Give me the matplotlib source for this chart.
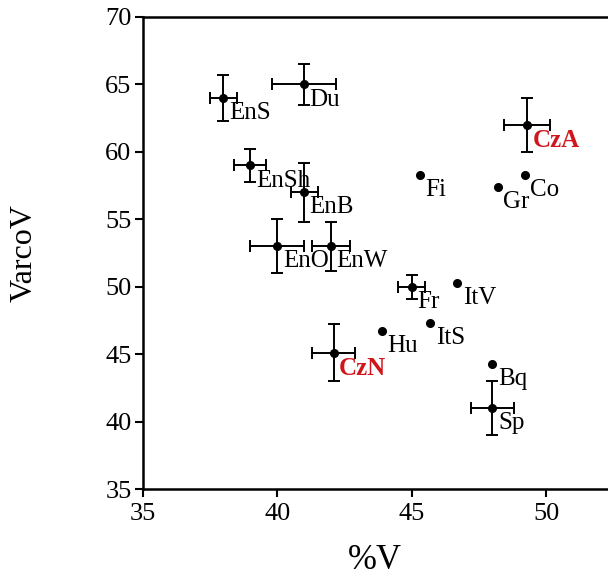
"""Scatter of VarcoV against %V with error bars for the rhythm-class groups."""
import numpy as np
import matplotlib
matplotlib.use('Agg')
import matplotlib.pyplot as plt

plt.rcParams['font.family'] = ['Liberation Serif', 'DejaVu Serif']

# --- data ---
labels = ['EnS', 'Du', 'EnSh', 'EnB', 'EnO', 'EnW', 'CzA', 'Fi', 'Co', 'Gr',
          'Fr', 'ItV', 'Hu', 'ItS', 'CzN', 'Bq', 'Sp']
pct_v = [38.0, 41.0, 39.0, 41.0, 40.0, 42.0, 49.3, 45.3, 49.2, 48.2,
         45.0, 46.7, 43.9, 45.7, 42.1, 48.0, 48.0]
varco_v = [64.0, 65.0, 59.0, 57.0, 53.0, 53.0, 62.0, 58.3, 58.3, 57.4,
           50.0, 50.3, 46.7, 47.3, 45.1, 44.3, 41.0]
# error bars (nan = no bar drawn)
x_err = [0.5, 1.2, 0.6, 0.5, 1.0, 0.7, 0.85, np.nan, np.nan, np.nan,
         0.5, np.nan, np.nan, np.nan, 0.8, np.nan, 0.8]
y_err = [1.7, 1.5, 1.2, 2.2, 2.0, 1.8, 2.0, np.nan, np.nan, np.nan,
         0.9, np.nan, np.nan, np.nan, 2.1, np.nan, 2.0]
highlight = ['CzA', 'CzN']

fig = plt.figure(figsize=(6.08, 5.76), dpi=100)
ax = fig.add_axes([0.2347, 0.151, 0.7653, 0.8195])

ax.plot(pct_v, varco_v, 'o', color='black', markersize=5.5, zorder=3)
ax.errorbar(pct_v, varco_v, xerr=x_err, yerr=y_err, fmt='none',
            ecolor='black', elinewidth=1.4, capsize=4, capthick=1.4, zorder=2)

for name, x, y in zip(labels, pct_v, varco_v):
    if name in highlight:
        ax.annotate(name, (x, y), xytext=(4, -3), textcoords='offset points',
                    ha='left', va='top', fontsize=18, color='#d0161c',
                    fontweight='bold')
    else:
        ax.annotate(name, (x, y), xytext=(4, -3), textcoords='offset points',
                    ha='left', va='top', fontsize=18, color='black')

ax.set_xlim(35, 52.3)
ax.set_ylim(35, 70)
ax.set_xticks([35, 40, 45, 50])
ax.set_yticks(np.arange(35, 71, 5))
ax.spines['right'].set_visible(False)
for s in ['left', 'bottom', 'top']:
    ax.spines[s].set_linewidth(1.8)
ax.tick_params(direction='out', length=6, width=1.5, labelsize=19, pad=2)
ax.tick_params(axis='x', pad=4)

ax.set_xlabel('%V', fontsize=25, labelpad=14)
ax.set_ylabel('VarcoV', fontsize=23, labelpad=48)

fig.savefig('out.png', dpi=100)
